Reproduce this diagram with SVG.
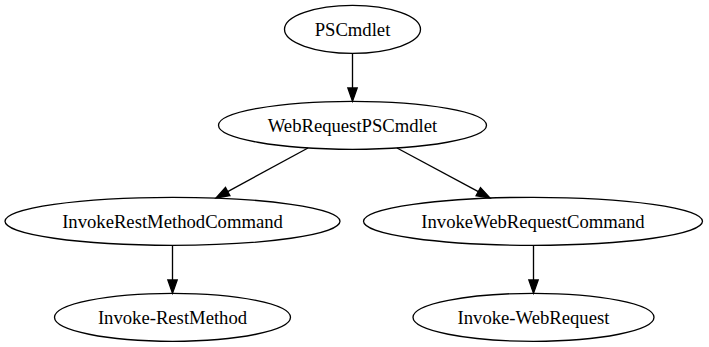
<svg xmlns="http://www.w3.org/2000/svg" width="709" height="347" viewBox="0 0 709 347">
  <style>
    .node ellipse { fill: none; stroke: #000; stroke-width: 1.33; }
    .node text { font-family: "Liberation Serif", "Times New Roman", serif; font-size: 18.67px; text-anchor: middle; fill: #000; }
    .edge { fill: none; stroke: #000; stroke-width: 1.33; marker-end: url(#arrow); }
  </style>
  <defs>
    <marker id="arrow" markerUnits="userSpaceOnUse" markerWidth="16" markerHeight="12" refX="0" refY="4.67" orient="auto" overflow="visible">
      <path d="M0,0 L13.33,4.67 L0,9.33 Z" fill="#000" stroke="#000" stroke-width="1.33"/>
    </marker>
  </defs>

  <!-- connectors -->
  <g id="edges">
    <path class="edge" d="M352.5,53.3 L352.5,88"/>
    <path class="edge" d="M308,148 L227.7,191.6"/>
    <path class="edge" d="M397,148 L478.3,191.7"/>
    <path class="edge" d="M172.5,245.3 L172.5,280"/>
    <path class="edge" d="M533.5,245.3 L533.5,280"/>
  </g>

  <!-- nodes -->
  <g id="PSCmdlet" class="node">
    <ellipse cx="352.5" cy="29.3" rx="68" ry="24"/>
    <text x="352.5" y="35.5">PSCmdlet</text>
  </g>
  <g id="WebRequestPSCmdlet" class="node">
    <ellipse cx="352.5" cy="125.3" rx="134" ry="24"/>
    <text x="352.5" y="131.5">WebRequestPSCmdlet</text>
  </g>
  <g id="InvokeRestMethodCommand" class="node">
    <ellipse cx="172.5" cy="221.3" rx="167.5" ry="24"/>
    <text x="172.5" y="227.5">InvokeRestMethodCommand</text>
  </g>
  <g id="InvokeWebRequestCommand" class="node">
    <ellipse cx="533" cy="221.3" rx="169.5" ry="24"/>
    <text x="533" y="227.5">InvokeWebRequestCommand</text>
  </g>
  <g id="Invoke-RestMethod" class="node">
    <ellipse cx="172.5" cy="317.3" rx="118" ry="24"/>
    <text x="172.5" y="323.5">Invoke-RestMethod</text>
  </g>
  <g id="Invoke-WebRequest" class="node">
    <ellipse cx="533.5" cy="317.3" rx="120.5" ry="24"/>
    <text x="533.5" y="323.5">Invoke-WebRequest</text>
  </g>
</svg>
